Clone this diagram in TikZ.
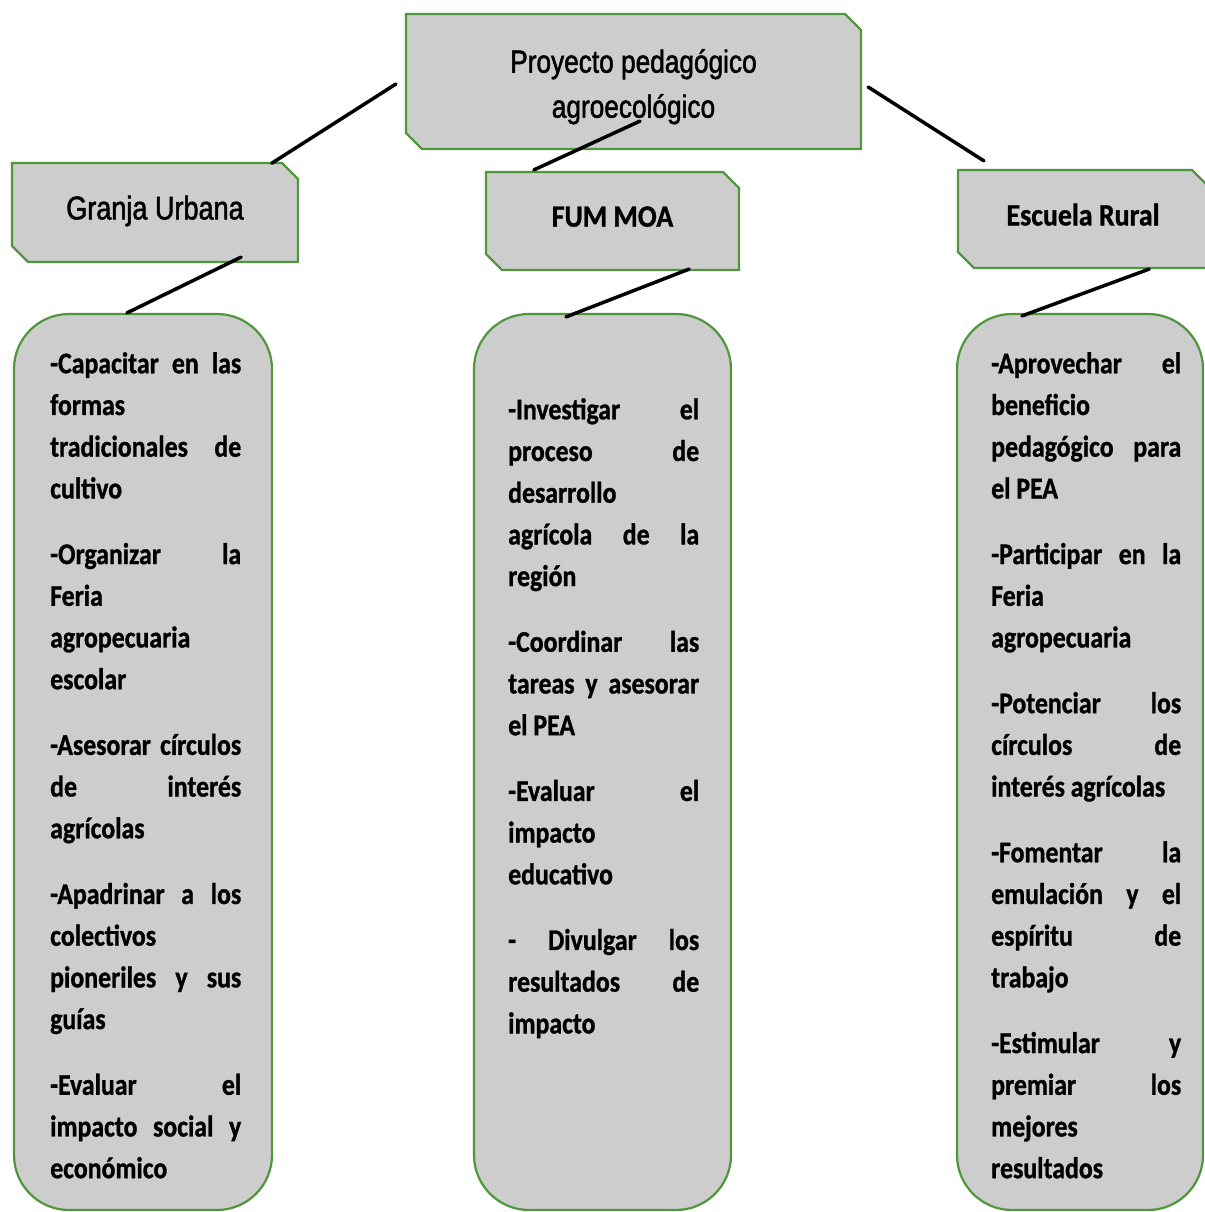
\documentclass[tikz,border=0pt]{standalone}
\usepackage{fontspec}
\setmainfont{Carlito}
\newfontfamily\titlefont[FakeStretch=0.82,FakeBold=1.5]{Liberation Sans}
\newfontfamily\grupofont[FakeStretch=0.9,FakeBold=1]{Carlito}
\newfontfamily\tareafont[FakeStretch=0.86,FakeBold=1]{Carlito}
\usetikzlibrary{shapes.misc,calc}

\newlength{\du}
\setlength{\du}{1pt}
\hbadness=10000
\hyphenpenalty=10000
\exhyphenpenalty=10000

\definecolor{bordecolor}{RGB}{80,150,60}
\definecolor{fondocolor}{RGB}{205,205,205}

\tikzset{
  cutbox/.style={chamfered rectangle, chamfered rectangle corners={north east,south west},
    chamfered rectangle sep=8\du, draw=bordecolor, fill=fondocolor, line width=2.2\du,
    inner sep=0pt, align=center},
  listbox/.style={rectangle, rounded corners=55\du, draw=bordecolor, fill=fondocolor,
    line width=2.2\du, inner sep=0pt, minimum height=896\du},
  tareas/.style={anchor=north west, inner sep=0pt, align=justify,
    font=\tareafont\bfseries\fontsize{30}{41.7}\selectfont,
    execute at begin node={\parindent=0pt\parskip=24\du\tolerance=10000}},
  link/.style={line width=3.5\du, line cap=round, black}
}

\begin{document}
\begin{tikzpicture}[x=1\du,y=-1\du]
\useasboundingbox (0,0) rectangle (1204,1212);

% cabeceras
\node[cutbox, minimum width=455\du, minimum height=135\du,
  font=\titlefont\fontsize{32}{45}\selectfont] (proj) at (633.5,81.5)
  {\rule{0pt}{34\du}Proyecto pedagógico\\agroecológico};
\node[cutbox, minimum width=286\du, minimum height=99\du,
  font=\titlefont\fontsize{33}{40}\selectfont] (gran) at (155,212.5)
  {\raisebox{10\du}{Granja Urbana}};
\node[cutbox, minimum width=253\du, minimum height=98\du,
  font=\grupofont\bfseries\fontsize{31}{38}\selectfont] (fum) at (612.5,221)
  {\raisebox{9\du}{FUM MOA}};
\node[cutbox, minimum width=250\du, minimum height=98\du,
  font=\grupofont\bfseries\fontsize{31}{38}\selectfont] (escu) at (1083,219)
  {\raisebox{9\du}{Escuela Rural}};

% cajas de tareas
\node[listbox, minimum width=258\du] (gbox) at (143,762) {};
\node[listbox, minimum width=257\du] (fbox) at (602.5,762) {};
\node[listbox, minimum width=246\du] (ebox) at (1080,762) {};

\node[tareas, text width=191\du] (gtext) at (50,352)
  {-Capacitar en las\linebreak formas\linebreak tradicionales de\linebreak cultivo\par
   -Organizar la\linebreak Feria\linebreak agropecuaria\linebreak escolar\par
   -Asesorar círculos\linebreak de interés\linebreak agrícolas\par
   -Apadrinar a los\linebreak colectivos\linebreak pioneriles y sus\linebreak guías\par
   -Evaluar el\linebreak impacto social y\linebreak económico};
\node[tareas, text width=191\du] (ftext) at (508,398)
  {-Investigar el\linebreak proceso de\linebreak desarrollo\linebreak agrícola de la\linebreak región\par
   -Coordinar las\linebreak tareas y asesorar\linebreak el PEA\par
   -Evaluar el\linebreak impacto\linebreak educativo\par
   - Divulgar los\linebreak resultados de\linebreak impacto};
\node[tareas, text width=190\du] (etext) at (991,352)
  {-Aprovechar el\linebreak beneficio\linebreak pedagógico para\linebreak el PEA\par
   -Participar en la\linebreak Feria\linebreak agropecuaria\par
   -Potenciar los\linebreak círculos de\linebreak interés agrícolas\par
   -Fomentar la\linebreak emulación y el\linebreak espíritu de\linebreak trabajo\par
   -Estimular y\linebreak premiar los\linebreak mejores\linebreak resultados};

% conectores
\draw[link] ($(proj.west)+(-9,2.5)$) -- ($(gran.north east)+(-19,-7)$);
\draw[link] ($(proj.east)+(6,5.5)$) -- ($(escu.north west)+(27,-8)$);
\draw[link] ($(proj.south)+(6.5,-29)$) -- ($(fum.north west)+(49,-1)$);
\draw[link] ($(gran.south east)+(-58,-6)$) -- ($(gbox.north)+(-16,0)$);
\draw[link] ($(fum.south east)+(-51,-2)$) -- ($(fbox.north)+(-36.5,4)$);
\draw[link] ($(escu.south east)+(-60,0)$) -- ($(ebox.north)+(-58,3)$);
\end{tikzpicture}
\end{document}
